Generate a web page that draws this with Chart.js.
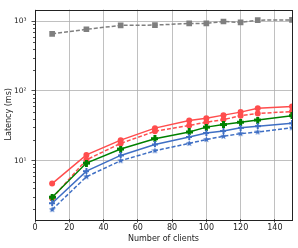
<!DOCTYPE html>
<html>
<head>
<meta charset="utf-8">
<script src="https://cdn.jsdelivr.net/npm/chart.js@4.4.0/dist/chart.umd.min.js"></script>
<style>
html,body{margin:0;padding:0;background:#fff;}
canvas{display:block;}
</style>
</head>
<body>
<canvas id="c" width="298" height="248"></canvas>
<script>
const xValues = [10, 30, 50, 70, 90, 100, 110, 120, 130, 150];
const redSolid = [4.7, 12.1, 19.7, 29.3, 37.6, 40.5, 45, 49.7, 56.5, 59.7];
const redDashed = [2.9, 10.3, 17.7, 26.4, 32, 35.6, 38.8, 44.2, 47.6, 50.7];
const greenSolid = [3.0, 9.25, 14.7, 20.7, 25.8, 30.3, 33, 35.6, 38.3, 44.2];
const blueSolid = [2.46, 7.08, 11.9, 17.1, 21.9, 24.9, 26.6, 29.6, 31.3, 34.4];
const blueDashed = [1.99, 5.89, 10.0, 13.9, 17.7, 20.1, 22.4, 24.4, 25.8, 29.6];
const graySeries = [657, 765, 870, 879, 928, 928, 990, 960, 1033, 1043];
const xTicks = [0, 20, 40, 60, 80, 100, 120, 140];
const yMajorTicks = [10, 100, 1000];
const yTickLabels = {10: '10\u00b9', 100: '10\u00b2', 1000: '10\u00b3'};
const xLabel = 'Number of clients';
const yLabel = 'Latency (ms)';

function pts(ys){ return xValues.map((x,i)=>({x:x, y:ys[i]})); }

function makePlus(color, size, arm){
  const c = document.createElement('canvas');
  c.width = size; c.height = size;
  const g = c.getContext('2d');
  g.fillStyle = color;
  const m = (size - arm)/2;
  g.fillRect(m, 0, arm, size);
  g.fillRect(0, m, size, arm);
  return c;
}
function makeStar(color, size){
  const c = document.createElement('canvas');
  c.width = size; c.height = size;
  const g = c.getContext('2d');
  g.fillStyle = color;
  const cx = size/2, cy = size/2, R = size/2, r = R*0.42;
  g.beginPath();
  for (let i=0;i<10;i++){
    const a = -Math.PI/2 + i*Math.PI/5;
    const rr = i%2===0 ? R : r;
    const px = cx + rr*Math.cos(a), py = cy + rr*Math.sin(a);
    if(i===0) g.moveTo(px,py); else g.lineTo(px,py);
  }
  g.closePath(); g.fill();
  return c;
}

const RED = '#ff4d4d', GREEN = '#008000', BLUE = '#3f6fc4', GRAY = '#7f7f7f';
const DASH = [4, 2];

const frameAndMinor = {
  id: 'frameAndMinor',
  afterDatasetsDraw(chart){
    const ctx = chart.ctx, a = chart.chartArea, ys = chart.scales.y;
    ctx.save();
    ctx.strokeStyle = '#222';
    ctx.lineWidth = 0.8;
    for (let k = 0; k <= 3; k++){
      for (let m = 2; m <= 9; m++){
        const v = m * Math.pow(10, k);
        if (v < ys.min || v > ys.max) continue;
        const py = Math.round(ys.getPixelForValue(v)) + 0.5;
        ctx.beginPath(); ctx.moveTo(a.left - 2, py); ctx.lineTo(a.left, py); ctx.stroke();
      }
    }
    ctx.strokeStyle = '#222';
    ctx.lineWidth = 1;
    ctx.strokeRect(Math.round(a.left)+0.5, Math.round(a.top)+0.5, Math.round(a.right-a.left), Math.round(a.bottom-a.top));
    ctx.restore();
  }
};

new Chart(document.getElementById('c'), {
  type: 'scatter',
  data: {
    datasets: [
      {data: pts(graySeries), borderColor: GRAY, backgroundColor: GRAY, borderDash: DASH, pointStyle: 'rect', pointRadius: 4},
      {data: pts(blueDashed), borderColor: BLUE, backgroundColor: BLUE, borderDash: DASH, pointStyle: makeStar(BLUE, 7)},
      {data: pts(blueSolid), borderColor: BLUE, backgroundColor: BLUE, pointStyle: makePlus(BLUE, 6, 2)},
      {data: pts(greenSolid), borderColor: GREEN, backgroundColor: GREEN, pointStyle: makePlus(GREEN, 7, 3)},
      {data: pts(redDashed), borderColor: RED, backgroundColor: RED, borderDash: DASH, pointStyle: 'circle', pointRadius: 3},
      {data: pts(redSolid), borderColor: RED, backgroundColor: RED, pointStyle: 'circle', pointRadius: 3}
    ].map(d => Object.assign({showLine: true, borderWidth: 1.5, clip: 0, pointBorderWidth: 0, pointRadius: d.pointRadius || 3}, d))
  },
  options: {
    responsive: false,
    animation: false,
    devicePixelRatio: 1,
    layout: {padding: {top: 5, right: 6, left: 0, bottom: 0}},
    plugins: {legend: {display: false}, tooltip: {enabled: false}},
    scales: {
      x: {
        type: 'linear', min: 0, max: 150,
        afterFit(s){ s.height = 29; },
        afterBuildTicks(s){ s.ticks = xTicks.map(v => ({value: v})); },
        ticks: {color: '#222', font: {family: 'DejaVu Sans', size: 8}, padding: 1, maxRotation: 0, autoSkip: false},
        grid: {color: '#b0b0b0', lineWidth: 0.8, tickLength: 3.5, tickColor: '#222', drawTicks: true},
        border: {display: false},
        title: {display: true, text: xLabel, color: '#222', font: {family: 'DejaVu Sans', size: 8}, padding: {top: 0, bottom: 4}}
      },
      y: {
        type: 'logarithmic', min: 1.46, max: 1470,
        afterFit(s){ s.width = 35; },
        afterBuildTicks(s){ s.ticks = yMajorTicks.map(v => ({value: v, major: true})); },
        ticks: {color: '#222', font: {family: 'DejaVu Sans', size: 7.5}, padding: 5, autoSkip: false,
          callback: v => yTickLabels[v] || ''},
        grid: {color: '#b0b0b0', lineWidth: 0.8, tickLength: 3.5, tickColor: '#222'},
        border: {display: false},
        title: {display: true, text: yLabel, color: '#222', font: {family: 'DejaVu Sans', size: 8}, padding: {top: 4, bottom: 0}}
      }
    }
  },
  plugins: [frameAndMinor]
});
</script>
</body>
</html>
